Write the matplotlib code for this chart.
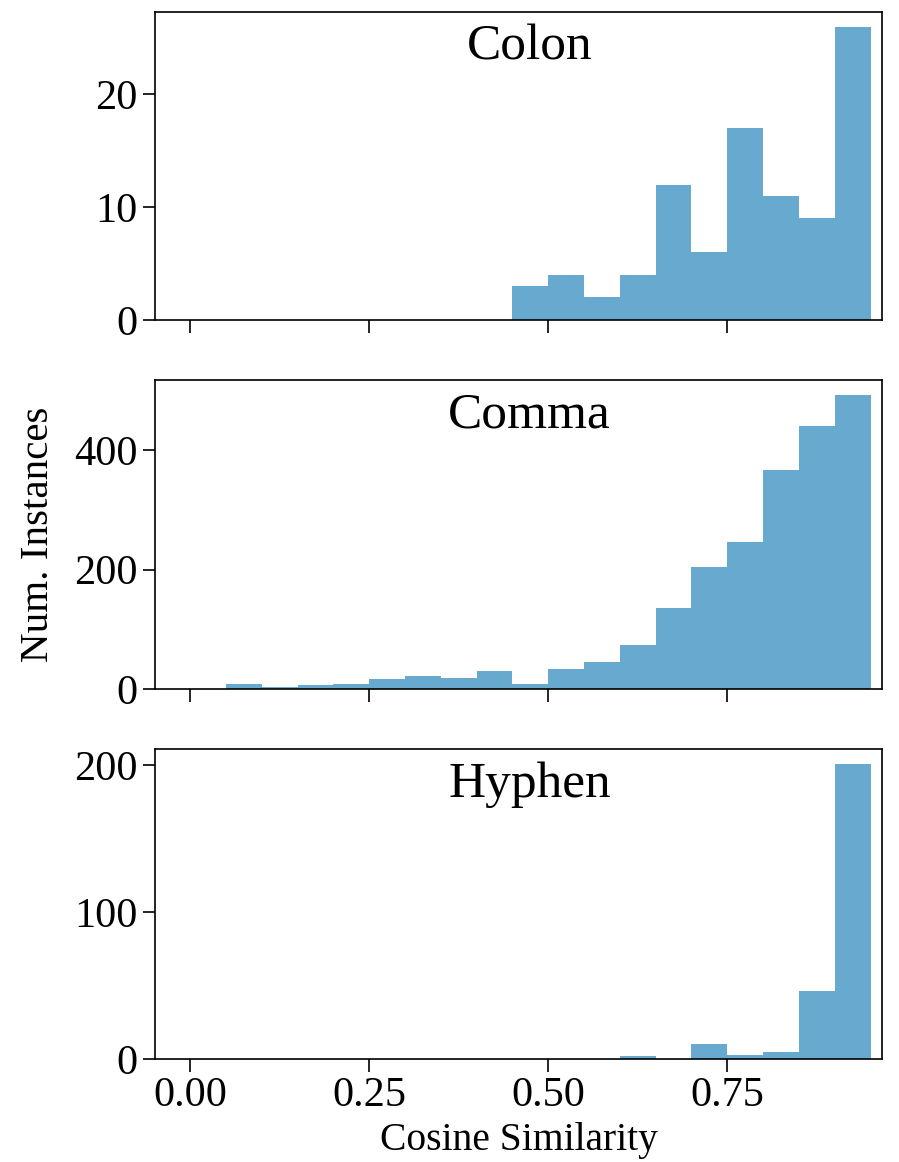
import matplotlib
matplotlib.use("Agg")
import matplotlib.pyplot as plt

# Histogram counts per cosine-similarity bin (bin width 0.05)
bin_edges = [0.00, 0.05, 0.10, 0.15, 0.20, 0.25, 0.30, 0.35, 0.40, 0.45,
             0.50, 0.55, 0.60, 0.65, 0.70, 0.75, 0.80, 0.85, 0.90]
colon = [0, 0, 0, 0, 0, 0, 0, 0, 0, 3, 4, 2, 4, 12, 6, 17, 11, 9, 26]
comma = [0, 9, 3, 6, 8, 17, 21, 19, 30, 8, 33, 45, 74, 136, 205, 246, 366, 440, 493]
hyphen = [0, 0, 0, 0, 0, 0, 0, 0, 0, 0, 0, 0, 2, 0, 10, 3, 5, 46, 201]

panels = ["Colon", "Comma", "Hyphen"]
counts = [colon, comma, hyphen]
yticks = [[0, 10, 20], [0, 200, 400], [0, 100, 200]]
xticks = [0.00, 0.25, 0.50, 0.75]

plt.rcParams["font.family"] = ["Liberation Serif", "DejaVu Serif"]

fig = plt.figure(figsize=(8.99, 11.62), dpi=100)
boxes = [(0.1724, 0.7246, 0.8087, 0.2651),
         (0.1724, 0.4071, 0.8087, 0.2659),
         (0.1724, 0.0886, 0.8087, 0.2668)]

axes = []
for box, name, vals, yt in zip(boxes, panels, counts, yticks):
    ax = fig.add_axes(box)
    ax.bar(bin_edges, vals, width=0.05, align="edge", color="#67a9cf", linewidth=0)
    ax.set_xlim(-0.049, 0.966)
    ax.set_ylim(0, max(vals) * 1.05)
    ax.set_yticks(yt)
    ax.set_xticks(xticks)
    ax.tick_params(labelsize=30.5, length=9, width=1.2)
    for s in ax.spines.values():
        s.set_linewidth(1.2)
    ax.text(0.515, 0.845, name, transform=ax.transAxes, ha="center",
            va="baseline", fontsize=37)
    axes.append(ax)

axes[0].tick_params(labelbottom=False)
axes[1].tick_params(labelbottom=False)
axes[2].set_xticklabels(["0.00", "0.25", "0.50", "0.75"])
axes[2].set_xlabel("Cosine Similarity", fontsize=28.5, labelpad=5)
axes[1].set_ylabel("Num. Instances", fontsize=29.5, labelpad=12)

fig.savefig("out.png", dpi=100)
